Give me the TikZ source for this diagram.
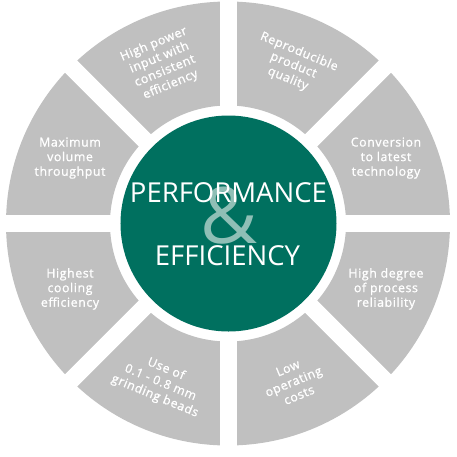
\documentclass[tikz,border=0pt]{standalone}
\usepackage{fontspec}
\setmainfont{Open Sans}
\newfontfamily\segfont[LetterSpace=5,FakeBold=1.2]{Open Sans}
\definecolor{ringgray}{HTML}{C0C0C0}
\definecolor{myteal}{HTML}{00705F}
\definecolor{amplight}{HTML}{8FBFB6}
\begin{document}
\begin{tikzpicture}[x=1pt,y=1pt,
  seg/.style={text=white, align=center, inner sep=0pt,
    font=\segfont\fontsize{12.3}{14.6}\selectfont},
  gapline/.style={white, line width=17pt},
  bigtext/.style={text=white, inner sep=0pt, anchor=base,
    font=\fontsize{27.5}{30}\selectfont}]
\useasboundingbox (-228,-232.5) rectangle (229,223.5);
% ring
\fill[ringgray, even odd rule] (0,0) circle (222) (0,0) circle (118);
\foreach \a in {0,45,90,135}{
  \draw[gapline] (\a:235) -- (\a+180:235);
}
% centre disc
\fill[myteal] (0.5,0) circle (108);
\node[text=amplight, inner sep=0pt, font=\fontsize{78}{80}\selectfont] (amp) at (1,7.5) {\&};
\node[bigtext] (perf) at (0.5,21.5) {PERFORMANCE};
\node[bigtext] (eff) at (-0.5,-41.5) {EFFICIENCY};
% segment texts
\node[seg, rotate=22.5] (power) at (112.5:172) {High power\\input with\\consistent\\efficiency};
\node[seg, rotate=-22.5] (repro) at (67.5:171) {Reproducible\\product\\quality};
\node[seg] (conv) at (22.5:171) {Conversion\\to latest\\technology};
\node[seg] (rel) at (-22.5:171) {High degree\\of process\\reliability};
\node[seg, rotate=22.5] (low) at (-67.5:171) {Low\\operating\\costs};
\node[seg, rotate=-22.5] (beads) at (-113:173) {Use of\\0.1 - 0.8 mm\\grinding beads};
\node[seg] (cool) at (-157.5:171) {Highest\\cooling\\efficiency};
\node[seg] (max) at (157.5:171) {Maximum\\volume\\throughput};
\end{tikzpicture}
\end{document}
